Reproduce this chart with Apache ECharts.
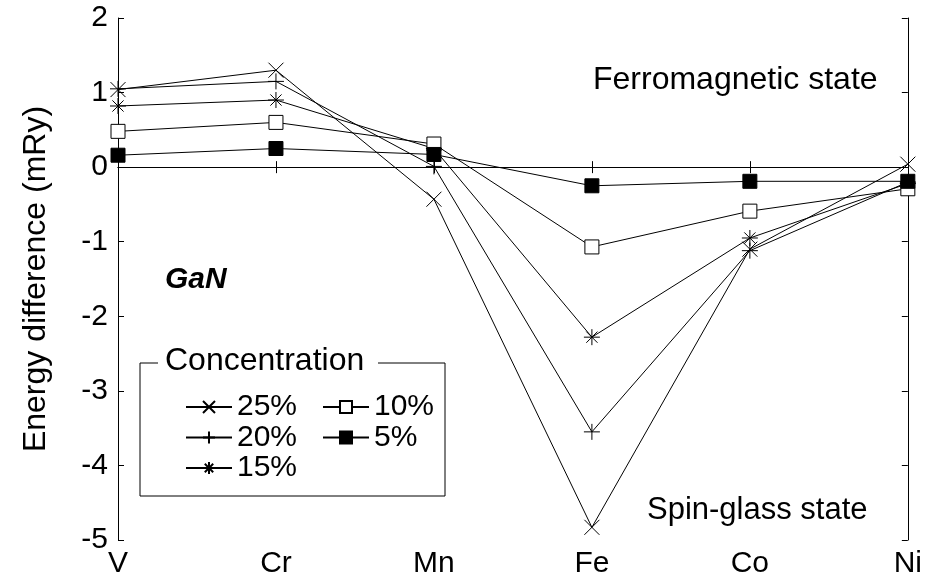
<!DOCTYPE html>
<html>
<head>
<meta charset="utf-8">
<script src="https://cdn.jsdelivr.net/npm/echarts@6/dist/echarts.min.js"></script>
<style>html,body{margin:0;padding:0;background:#fff;}#c{width:925px;height:579px;}</style>
</head>
<body>
<div id="c"></div>
<script>
const categories = ['V', 'Cr', 'Mn', 'Fe', 'Co', 'Ni'];
const c25 = [1.04, 1.30, -0.43, -4.83, -1.10, 0.04];
const c20 = [1.05, 1.15, 0.01, -3.55, -1.12, -0.20];
const c15 = [0.82, 0.90, 0.25, -2.28, -0.95, -0.22];
const c10 = [0.48, 0.60, 0.31, -1.07, -0.59, -0.29];
const c5  = [0.16, 0.25, 0.17, -0.25, -0.19, -0.19];
const yTicks = { min: -5, max: 2, interval: 1 };

const FONT = 'Liberation Sans, Arial, sans-serif';
const symX = 'path://M0 0L10 10M10 0L0 10';
const symPlus = 'path://M5 0L5 10M0 5L10 5';
const symStar = 'path://M1.5 1.5L8.5 8.5M8.5 1.5L1.5 8.5M5 0L5 10M0 5L10 5';

function mk(name, data, symbol, size, fill) {
  return {
    name: name, type: 'line', data: data, symbol: symbol, symbolSize: size,
    xAxisIndex: 0, yAxisIndex: 0,
    lineStyle: { color: '#000', width: 1 },
    itemStyle: { color: fill, borderColor: '#000', borderWidth: 1 },
    emphasis: { disabled: true }
  };
}

const series = [
  mk('25%', c25, symX, 15, '#000'),
  mk('20%', c20, symPlus, 16, '#000'),
  mk('15%', c15, symStar, 16, '#000'),
  mk('10%', c10, 'rect', 14, '#fff'),
  mk('5%', c5, 'rect', 14, '#000')
];
series[4].markLine = {
  silent: true, symbol: 'none', label: { show: false },
  lineStyle: { color: '#000', type: 'solid', width: 1 },
  data: [{ yAxis: 0 }]
};

const axisLine = { show: true, lineStyle: { color: '#000', width: 1 } };
const legendCommon = {
  orient: 'vertical', itemWidth: 46, itemHeight: 15, itemGap: 0.5,
  textStyle: { color: '#000', fontFamily: FONT, fontSize: 30, lineHeight: 30 },
  selectedMode: false, top: 387
};

const chart = echarts.init(document.getElementById('c'));
chart.setOption({
  animation: false,
  backgroundColor: '#fff',
  grid: { left: 118, right: 17, top: 18, bottom: 38 },
  xAxis: [
    { type: 'category', data: categories, boundaryGap: false, position: 'bottom',
      axisLine: axisLine, axisTick: { show: true, inside: true, length: 6, lineStyle: { color: '#000' } },
      axisLabel: { color: '#000', fontFamily: FONT, fontSize: 30, margin: 9 },
      splitLine: { show: false } },
    { type: 'category', data: categories, boundaryGap: false, position: 'top',
      axisLine: axisLine, axisTick: { show: true, inside: true, length: 6, lineStyle: { color: '#000' } },
      axisLabel: { show: false }, splitLine: { show: false } }
  ],
  yAxis: [
    { type: 'value', min: yTicks.min, max: yTicks.max, interval: yTicks.interval, position: 'left',
      axisLine: axisLine, axisTick: { show: true, inside: true, length: 6, lineStyle: { color: '#000' } },
      axisLabel: { color: '#000', fontFamily: FONT, fontSize: 30, margin: 10 },
      splitLine: { show: false },
      name: 'Energy difference (mRy)', nameLocation: 'middle', nameGap: 66,
      nameTextStyle: { color: '#000', fontFamily: FONT, fontSize: 32 } },
    { type: 'value', min: yTicks.min, max: yTicks.max, interval: yTicks.interval, position: 'right',
      axisLine: axisLine, axisTick: { show: true, inside: true, length: 6, lineStyle: { color: '#000' } },
      axisLabel: { show: false }, splitLine: { show: false } }
  ],
  legend: [
    Object.assign({ left: 180, data: ['25%', '20%', '15%'] }, legendCommon),
    Object.assign({ left: 317, data: ['10%', '5%'] }, legendCommon)
  ],
  graphic: [
    { type: 'polyline', shape: { points: [[378, 363], [445, 363], [445, 496], [140, 496], [140, 363], [158, 363]] },
      style: { stroke: '#000', lineWidth: 1, fill: null }, z: 10 },
    { type: 'text', left: 165, top: 363 - 18, style: { text: 'Concentration', fill: '#000', font: '32px ' + FONT }, z: 10 },
    { type: 'text', left: 593, top: 82 - 18, style: { text: 'Ferromagnetic state', fill: '#000', font: '32px ' + FONT }, z: 10 },
    { type: 'text', left: 647, top: 513 - 18, style: { text: 'Spin-glass state', fill: '#000', font: '31px ' + FONT }, z: 10 },
    { type: 'text', left: 165, top: 282 - 17, style: { text: 'GaN', fill: '#000', font: 'italic bold 30px ' + FONT }, z: 10 }
  ],
  series: series
});
</script>
</body>
</html>
